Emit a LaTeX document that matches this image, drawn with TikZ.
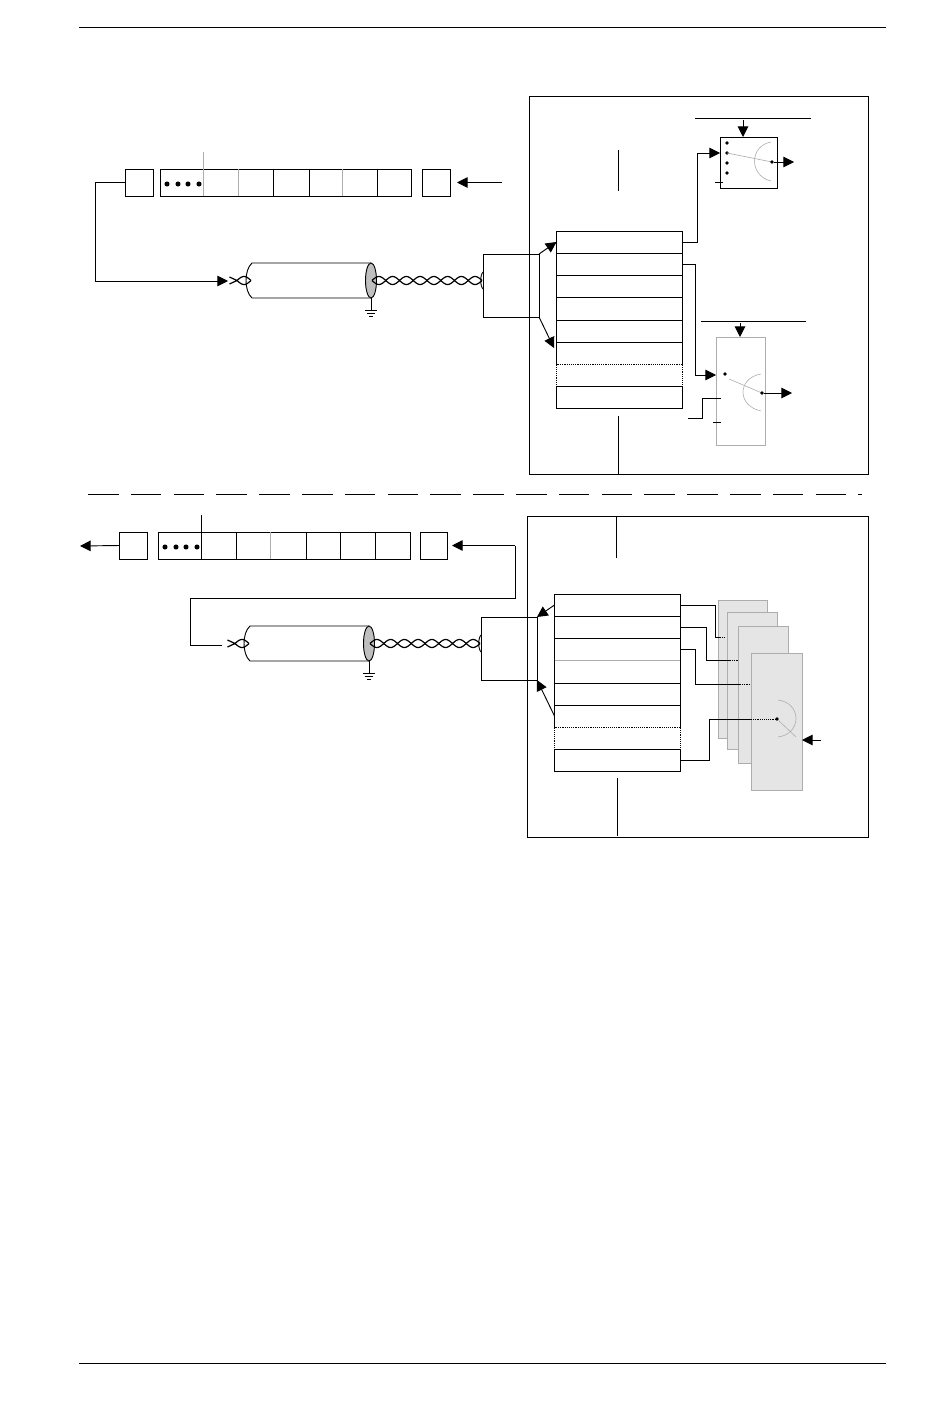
\documentclass[tikz,border=0pt]{standalone}
\usetikzlibrary{positioning,arrows.meta,fit,calc}
\definecolor{pagegray}{gray}{.9}
\definecolor{edgegray}{gray}{.68}
\tikzset{
	wire/.style={line width=.7pt},
	tip/.style={wire,-{Triangle[length=8pt,width=8pt]}},
	cell/.style={draw,inner sep=0pt,outer sep=0pt,line width=.7pt},
	fadecell/.style={draw=edgegray,inner sep=0pt,outer sep=0pt,line width=.6pt},
	sheet/.style={fill=pagegray,draw=edgegray,inner sep=0pt,outer sep=0pt,line width=.5pt},
	thin wire/.style={draw=edgegray,line width=.45pt},
	fade wire/.style={draw=edgegray,line width=.6pt},
	fine dots/.style={dash pattern=on .7pt off .7pt},
	pin/.style={circle,fill,inner sep=0pt,minimum size=2.8pt},
	bead/.style={circle,fill,inner sep=0pt,minimum size=3.8pt},
}
% twisted pair between x=#1 and x=#2, first crossing at #1 with lobe #3
\newcommand{\twisted}[4]{
	\draw[line width=.9pt] plot[smooth,samples=#4,domain=#1:#2] (\x,{280.5+4*sin(180/#3*(\x-#1))});
	\draw[line width=.9pt] plot[smooth,samples=#4,domain=#1:#2] (\x,{280.5-4*sin(180/#3*(\x-#1))});
}
% cable, line box and register stack, at the place of the upper link
\newcommand{\linkparts}{
	\node[cell,fit={(483,254) (539,317)}] (gate) {};
	\draw[wire] (371,263) -- (252,263) .. controls (244,270) and (244,291) .. (252,298) -- (371,298);
	\twisted{237}{251}{14}{25}
	\draw[line width=.9pt] (229.5,277) -- (237,280.5) -- (229.5,284);
	\filldraw[fill=black!25,wire] (371,280.5) ellipse [x radius=5.5,y radius=17.5];
	\coordinate (shield) at (371,298);
	\coordinate (earth) at (371,310);
	\draw[wire] (shield) -- (earth);
	\draw[wire] (365,310) -- (377,310) (367,313) -- (375,313) (369,316) -- (373,316);
	\twisted{372}{482}{13.75}{121}
	\draw[wire] (483,272) .. controls (480,275) and (480,286) .. (483,289);
	\foreach \i/\rtop/\rbot in {1/231/253,2/253/275,3/275/297,4/297/320,5/320/342,6/342/364,8/386/408}
		\node[cell,fit={(556.5,\rtop) (682,\rbot)}] (row\i) {};
	\node[cell,fine dots,fill=white,fit={(556.5,364) (682,386)}] (row7) {};
}
\begin{document}
\begin{tikzpicture}[x=.75pt,y=-.75pt]
	\useasboundingbox (0,0) rectangle (950,1409);
	\coordinate (ruletopl) at (79,27);
	\coordinate (ruletopr) at (886,27);
	\coordinate (rulebotl) at (79,1363);
	\coordinate (rulebotr) at (886,1363);
	\draw[wire] (ruletopl) -- (ruletopr);
	\draw[wire] (rulebotl) -- (rulebotr);
	
	%%%% upper half
	\node[cell,fit={(529,96) (868,474)}] (txhost) {};
	\begin{scope}[name prefix=tx-]
		\linkparts
	\end{scope}
	\node[cell,fit={(125,169) (153,196)}] (txleft) {};
	\node[cell,fit={(160,169) (411,196)}] (txframe) {};
	\node[cell,fit={(422,169) (450,196)}] (txright) {};
	\foreach \x in {273,309,377}
		\draw[wire] (\x,169) -- (\x,196);
	\foreach \x in {238,342}
		\draw[fade wire] (\x,169) -- (\x,196);
	\draw[thin wire] (203,152) -- (203,196);
	\foreach \x in {167,178,188,199}
		\node[bead] at (\x,184) {};
	\coordinate (txfeed) at (502,182.5);
	\draw[tip] (txfeed) -- ($(txright.east)+(7,0)$);
	\coordinate (txcable) at (228,281);
	\draw[tip] (txleft.west) -- (95,182.5) -- (95,281) -- (txcable);
	
	\draw[tip] (tx-gate.north east) -- (tx-row1.west);
	\coordinate (txfifoend) at (554,348);
	\draw[tip] (tx-gate.south east) -- (txfifoend);
	\draw[wire] (618.5,150) -- (618.5,191);
	\draw[wire] (618.5,416) -- (618.5,474);
	
	%%%% small selector
	\node[cell,fit={(720,137) (777,188)}] (muxa) {};
	\draw[wire] (695,118) -- (811,118);
	\draw[tip] (743,120) -- (743,137);
	\foreach \y in {143,153,163,173}
		\node[pin] at (727,\y) {};
	\draw[wire] (715,182) -- (723,182);
	\draw[thin wire] (727,153) -- (772,162);
	\draw[thin wire] (771,142) .. controls (749,146) and (749,176) .. (771,181);
	\node[pin] (muxaout) at (772,162) {};
	\coordinate (muxaend) at (794,162);
	\draw[tip] (muxaout) -- (muxaend);
	\coordinate (muxain) at (720,153);
	\draw[tip] (tx-row1.east) -- (697,242) -- (697,153) -- (muxain);
	
	%%%% tall selector
	\node[fadecell,fit={(716,337) (765,445)}] (muxb) {};
	\draw[wire] (701,321) -- (806,321);
	\draw[tip] (740,323) -- (740,337);
	\node[pin] at (725,374) {};
	\draw[thin wire] (729,379) -- (762,393);
	\draw[thin wire] (761,374) .. controls (737,378) and (737,406) .. (761,411);
	\node[pin] (muxbout) at (762,393) {};
	\coordinate (muxbend) at (792,393);
	\draw[tip] (muxbout) -- (muxbend);
	\draw[wire] (688,418) -- (702,418) -- (702,398) -- (721,398);
	\draw[wire] (713,422) -- (721,422);
	\coordinate (muxbin) at (716,375);
	\draw[tip] (tx-row2.east) -- (695,264) -- (695,375) -- (muxbin);
	
	%%%% split line
	\coordinate (splitl) at (88,494);
	\coordinate (splitr) at (862,494);
	\draw[line width=.7pt,dash pattern=on 23pt off 9.1pt] (splitl) -- (splitr);
	
	%%%% lower half
	\node[cell,fit={(527,516) (868,837)}] (rxhost) {};
	\begin{scope}[shift={(-2,363)},name prefix=rx-]
		\linkparts
	\end{scope}
	\node[cell,fit={(119,532) (147,559)}] (rxleft) {};
	\node[cell,fit={(158,532) (410,559)}] (rxframe) {};
	\node[cell,fit={(420,532) (447,559)}] (rxright) {};
	\foreach \x in {236,306,340,375}
		\draw[wire] (\x,532) -- (\x,559);
	\draw[fade wire] (270,532) -- (270,559);
	\draw[wire] (201,515) -- (201,559);
	\foreach \x in {165,176,186,197}
		\node[bead] at (\x,547) {};
	\coordinate (rxout) at (80,546);
	\draw[tip] (rxleft.west) -- (rxout);
	\coordinate (rxcable) at (222,645.5);
	\draw[wire] (rxcable) -- (190,645.5) -- (190,598) -- (515,598) -- (515,545.5);
	\draw[tip] (515,545.5) -- ($(rxright.east)+(5,0)$);
	
	\draw[tip] (rx-row1.west) -- (rx-gate.north east);
	\draw[tip] (rx-row6.west) -- (rx-gate.south east);
	\draw[white,line width=.9pt] (rx-row4.north west) -- (rx-row4.north east);
	\draw[fade wire] (rx-row4.north west) -- (rx-row4.north east);
	\draw[wire] (616.5,516) -- (616.5,558);
	\draw[wire] (617.5,778) -- (617.5,836);
	
	%%%% stacked sheets
	\node[sheet,fit={(718,600) (767,738)}] (sheeta) {};
	\node[sheet,fit={(727.5,612) (777,749)}] (sheetb) {};
	\node[sheet,fit={(738,626) (788,763)}] (sheetc) {};
	\draw[wire] (rx-row1.east) -- (715,605) -- (715,637.5) -- (720,637.5);
	\draw[wire,fine dots] (720,637.5) -- (725,637.5);
	\draw[wire] (rx-row2.east) -- (706,627) -- (706,660) -- (730,660);
	\draw[wire,fine dots] (730,660) -- (739,660);
	\draw[wire] (rx-row3.east) -- (695,649) -- (695,684) -- (740,684);
	\draw[wire,fine dots] (740,684) -- (751,684);
	\node[sheet,fit={(751,653) (802,790)}] (sheetd) {};
	\draw[wire] (rx-row8.east) -- (709,760) -- (709,719) -- (751,719);
	\draw[wire,fine dots] (751,719) -- (777,719);
	\node[pin] (sheetpin) at (777,719) {};
	\draw[thin wire] (sheetpin) -- (796,737);
	\draw[thin wire] (778,700) .. controls (802,703) and (802,734) .. (778,737);
	\coordinate (sheetfeed) at (821,740);
	\draw[tip] (sheetfeed) -- (sheetd.east |- sheetfeed);
\end{tikzpicture}
\end{document}
